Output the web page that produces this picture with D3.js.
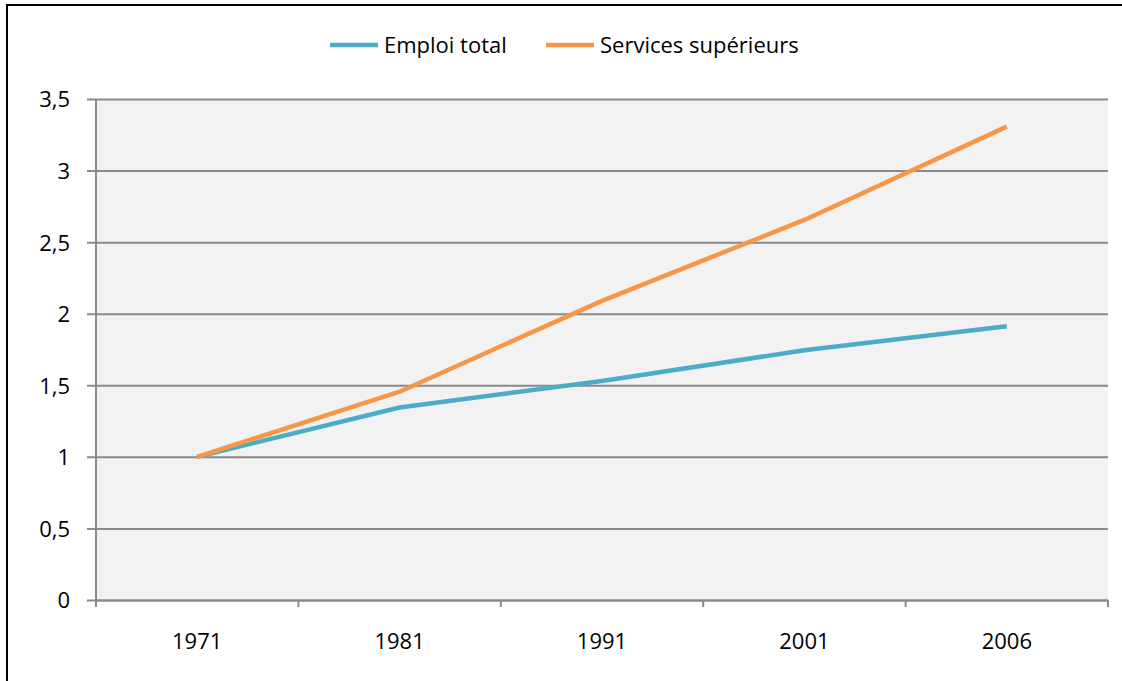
<!DOCTYPE html>
<html>
<head>
<meta charset="utf-8">
<script src="https://cdn.jsdelivr.net/npm/d3@7"></script>
<style>
  html, body { margin: 0; padding: 0; background: #ffffff; overflow: hidden; }
  svg { display: block; }
</style>
</head>
<body>
<svg id="chart" width="1122" height="681"></svg>
<script>
// Employment index (base 1971 = 1)
const years = ["1971", "1981", "1991", "2001", "2006"];
const emploiTotal = [1.0, 1.345, 1.53, 1.745, 1.912];
const servicesSuperieurs = [1.0, 1.455, 2.09, 2.655, 3.307];
const yTicks = [0, 0.5, 1, 1.5, 2, 2.5, 3, 3.5];
const seriesNames = ["Emploi total", "Services supérieurs"];
const seriesColors = ["#4BACC6", "#F79646"];

const svg = d3.select("#chart");
const plot = { left: 96, right: 1108, top: 99, bottom: 600 };
const fontFamily = "'Open Sans', sans-serif";
const fontSize = 22;

// outer frame: only the top and left edges fall inside the canvas
svg.append("path")
  .attr("d", "M7,681 L7,5 L1122,5")
  .attr("fill", "none").attr("stroke", "#000").attr("stroke-width", 2);

const x = d3.scaleBand().domain(years).range([plot.left, plot.right]);
const y = d3.scaleLinear().domain([0, 3.5]).range([plot.bottom, plot.top]);
const fr = d3.formatLocale({ decimal: ",", thousands: " ", grouping: [3], currency: ["", "€"] });
const fmt = v => fr.format("")(v);

// plot background
svg.append("rect")
  .attr("x", plot.left).attr("y", plot.top)
  .attr("width", plot.right - plot.left).attr("height", plot.bottom - plot.top)
  .attr("fill", "#F2F2F2");

// horizontal gridlines with left tick stubs
const gridAxis = d3.axisLeft(y).tickValues(yTicks)
  .tickSize(-(plot.right - plot.left) - 9).tickFormat(fmt).tickPadding(17);
const gy = svg.append("g")
  .attr("transform", `translate(${plot.left - 9},0)`)
  .call(gridAxis);
gy.attr("font-family", fontFamily).attr("font-size", fontSize);
gy.select(".domain").remove();
gy.selectAll(".tick line").attr("stroke", "#898989").attr("stroke-width", 2)
  .attr("x1", 0).attr("x2", plot.right - plot.left + 9);
gy.selectAll(".tick text")
  .attr("x", -17).attr("dy", "0.36em").attr("fill", "#000");

// vertical value axis line
svg.append("line")
  .attr("x1", plot.left).attr("x2", plot.left)
  .attr("y1", plot.top).attr("y2", plot.bottom + 7)
  .attr("stroke", "#898989").attr("stroke-width", 2);

// category axis
const xAxis = d3.axisBottom(x).tickSize(0).tickPadding(33);
const gx = svg.append("g")
  .attr("transform", `translate(0,${plot.bottom})`)
  .call(xAxis);
gx.attr("font-family", fontFamily).attr("font-size", fontSize);
gx.select(".domain").attr("stroke", "#898989").attr("stroke-width", 2);
gx.selectAll(".tick text").attr("fill", "#000");
const boundaries = years.map(d => x(d)).concat([plot.right]);
gx.selectAll(".bound").data(boundaries).enter().append("line")
  .attr("x1", d => d).attr("x2", d => d)
  .attr("y1", 0).attr("y2", 7)
  .attr("stroke", "#898989").attr("stroke-width", 2);

// series lines
const line = d3.line()
  .x((d, i) => x(years[i]) + x.bandwidth() / 2)
  .y(d => y(d));
[emploiTotal, servicesSuperieurs].forEach((vals, k) => {
  svg.append("path")
    .datum(vals)
    .attr("d", line)
    .attr("fill", "none")
    .attr("stroke", seriesColors[k])
    .attr("stroke-width", 4.5)
    .attr("stroke-linejoin", "round");
});

// legend
const legendX = [330, 546];
seriesNames.forEach((name, k) => {
  const g = svg.append("g").attr("transform", `translate(${legendX[k]},45)`);
  g.append("line").attr("x1", 0).attr("x2", 48).attr("y1", 0).attr("y2", 0)
    .attr("stroke", seriesColors[k]).attr("stroke-width", 4.5);
  g.append("text").attr("x", 54).attr("y", 8)
    .attr("font-family", fontFamily).attr("font-size", fontSize)
    .attr("fill", "#000").text(name);
});
</script>
</body>
</html>
